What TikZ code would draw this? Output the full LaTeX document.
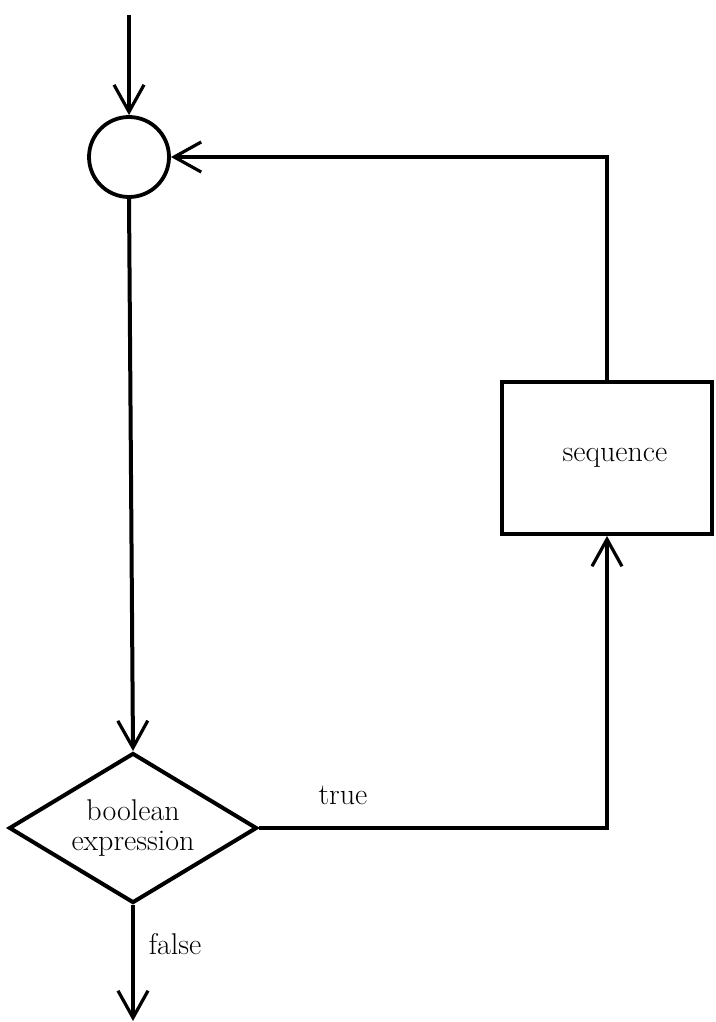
\documentclass[tikz,border=0pt]{standalone}
\usetikzlibrary{arrows.meta,shapes.geometric}
\begin{document}
\begin{tikzpicture}[x=1pt,y=-1pt,
  every node/.style={font=\fontsize{30}{30}\selectfont},
  flow/.style={line width=4pt,line join=miter},
  arr/.style={flow,-{Straight Barb[length=27pt,width=30pt,line width=3.2pt]}},
  junction/.style={circle,draw,line width=3.8pt,minimum size=80pt,inner sep=0pt},
  decision/.style={diamond,draw,line width=4pt,minimum width=248pt,minimum height=150pt,aspect=1.65,inner sep=0pt,align=center},
  stepbox/.style={rectangle,draw,line width=4pt,minimum width=210pt,minimum height=152pt,inner sep=0pt},
  lbl/.style={inner sep=0pt}]
  \useasboundingbox (0,0) rectangle (715,1022);

  % nodes of the while loop
  \coordinate (entry) at (129,15);
  \node[junction] (loop) at (129,157) {};
  \node[decision] (test) at (133,828) {boolean\\expression};
  \node[stepbox] (seq) at (607,458) {\hspace{16pt}sequence};
  \coordinate (turn) at (607,828);
  \coordinate (exit) at (133,1021);

  % connectors
  \draw[arr] (entry) -- (loop.north);
  \draw[arr] (loop.south) -- (test.north);
  \draw[arr] (test.east) -- (turn) -- (seq.south);
  \draw[arr] (seq.north) |- (loop.east);
  \draw[arr] (test.south) -- (exit);

  % branch labels
  \node[lbl] (ltrue) at (343,795) {true};
  \node[lbl] (lfalse) at (175,944) {false};
\end{tikzpicture}
\end{document}
